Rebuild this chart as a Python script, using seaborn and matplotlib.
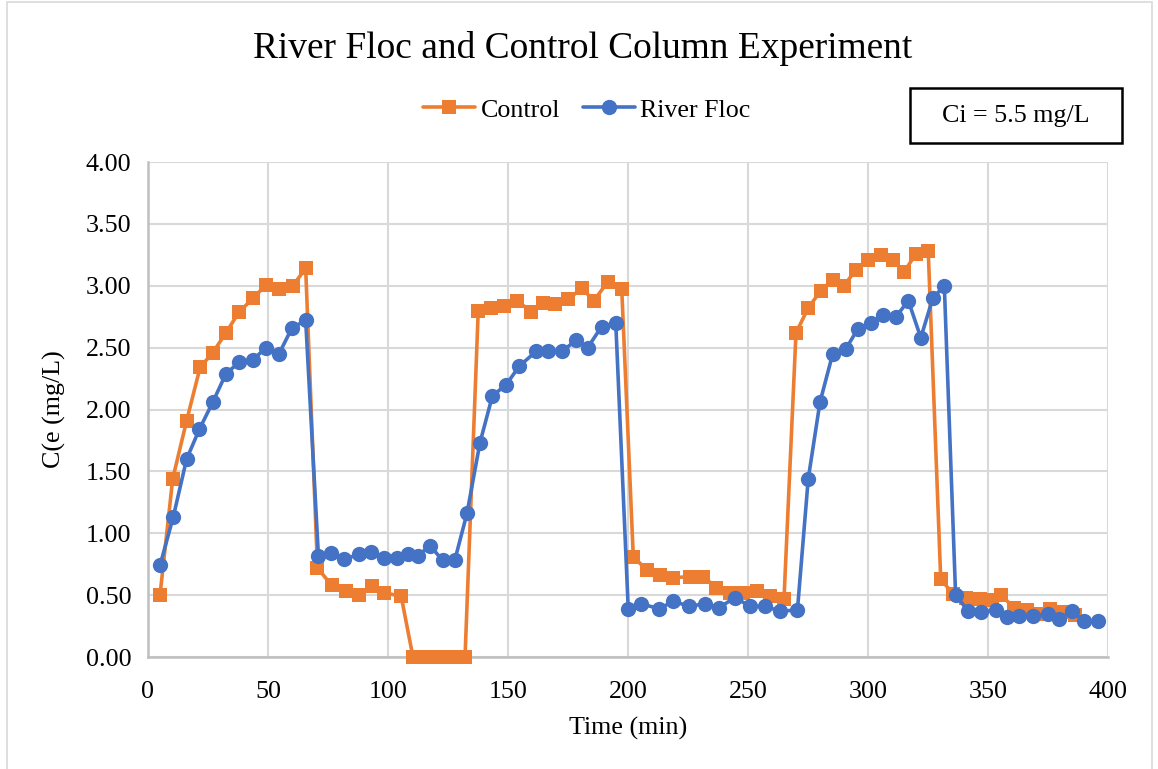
import numpy as np
import pandas as pd
import matplotlib
matplotlib.use("Agg")
import matplotlib.pyplot as plt
import seaborn as sns
from matplotlib.patches import Rectangle

# ---- data ----
control_time = [5.0, 10.3, 16.1, 21.7, 27.0, 32.5, 38.0, 43.9, 49.2, 54.7, 60.3, 65.7,
                70.6, 76.5, 82.4, 87.9, 93.2, 98.3, 105.5, 110.4, 115.8, 121.3, 126.7, 132.1,
                137.6, 142.8, 148.3, 153.9, 159.5, 164.7, 169.6, 175.1, 180.7, 185.8, 191.5, 197.4,
                202.2, 208.0, 213.3, 218.6, 225.8, 231.4, 236.8, 242.5, 247.8, 253.6, 259.2, 265.0,
                270.0, 275.1, 280.3, 285.3, 290.0, 295.0, 300.1, 305.3, 310.3, 315.0, 320.0, 325.1,
                330.3, 335.4, 341.0, 346.7, 351.7, 355.4, 360.8, 366.3, 370.8, 375.8, 380.8, 386.3]
control_ce = [0.50, 1.44, 1.91, 2.34, 2.46, 2.62, 2.79, 2.90, 3.01, 2.97, 3.00, 3.14,
              0.72, 0.58, 0.53, 0.50, 0.57, 0.52, 0.49, 0.00, 0.00, 0.00, 0.00, 0.00,
              2.80, 2.82, 2.84, 2.88, 2.79, 2.86, 2.85, 2.89, 2.98, 2.88, 3.03, 2.97,
              0.81, 0.70, 0.66, 0.64, 0.65, 0.65, 0.56, 0.52, 0.52, 0.53, 0.49, 0.47,
              2.62, 2.82, 2.96, 3.05, 3.00, 3.13, 3.21, 3.25, 3.21, 3.11, 3.26, 3.28,
              0.63, 0.51, 0.48, 0.47, 0.46, 0.50, 0.40, 0.38, 0.35, 0.39, 0.36, 0.34]

floc_time = [5.0, 10.5, 16.1, 21.4, 27.0, 32.5, 37.9, 43.6, 49.2, 54.6, 60.0, 65.7,
             71.0, 76.1, 81.8, 88.0, 92.8, 98.3, 103.6, 108.2, 112.6, 117.5, 122.8, 127.8,
             132.9, 138.3, 143.5, 149.2, 154.7, 161.7, 166.8, 172.6, 178.3, 183.2, 189.0, 194.9,
             200.1, 205.4, 213.0, 218.9, 225.5, 232.1, 238.0, 244.6, 250.8, 257.1, 263.3, 270.6,
             275.1, 280.0, 285.3, 290.8, 295.7, 301.1, 306.1, 311.7, 316.8, 322.0, 327.0, 331.8,
             336.5, 341.8, 347.1, 353.3, 357.8, 363.0, 368.9, 374.9, 379.7, 385.1, 390.1, 395.7]
floc_ce = [0.74, 1.13, 1.60, 1.84, 2.06, 2.29, 2.38, 2.40, 2.50, 2.45, 2.66, 2.72,
           0.82, 0.84, 0.79, 0.83, 0.85, 0.80, 0.80, 0.83, 0.82, 0.90, 0.78, 0.78,
           1.16, 1.73, 2.11, 2.20, 2.35, 2.47, 2.47, 2.47, 2.56, 2.50, 2.67, 2.70,
           0.39, 0.43, 0.39, 0.45, 0.41, 0.43, 0.40, 0.48, 0.41, 0.41, 0.37, 0.38,
           1.44, 2.06, 2.45, 2.49, 2.65, 2.70, 2.76, 2.75, 2.88, 2.58, 2.90, 3.00,
           0.50, 0.37, 0.36, 0.38, 0.32, 0.33, 0.33, 0.35, 0.31, 0.37, 0.29, 0.29]

series_names = ["Control", "River Floc"]
x_ticks = [0, 50, 100, 150, 200, 250, 300, 350, 400]
y_ticks = [0.00, 0.50, 1.00, 1.50, 2.00, 2.50, 3.00, 3.50, 4.00]
title = "River Floc and Control Column Experiment"
x_label = "Time (min)"
y_label = "C(e (mg/L)"
note = "Ci = 5.5 mg/L"

# ---- style ----
sns.set_theme(style="white")
plt.rcParams['font.family'] = ['Liberation Serif', 'DejaVu Serif']
plt.rcParams['text.color'] = 'black'
plt.rcParams['axes.labelcolor'] = 'black'

ORANGE = "#ED7D31"
BLUE = "#4472C4"
GRID = "#D9D9D9"

fig = plt.figure(figsize=(11.58, 7.69), dpi=100)
W, H = 1158, 769
ax = fig.add_axes([148 / W, 1 - 657 / H, (1108 - 148) / W, (657 - 162) / H])

sns.lineplot(x=control_time, y=control_ce, ax=ax, color=ORANGE, linewidth=2.6,
             marker="s", markersize=10, markeredgewidth=0, estimator=None,
             label=series_names[0], zorder=3, clip_on=False)
sns.lineplot(x=floc_time, y=floc_ce, ax=ax, color=BLUE, linewidth=2.6,
             marker="o", markersize=11, markeredgewidth=0, estimator=None,
             label=series_names[1], zorder=4, clip_on=False)

ax.set_xlim(0, 400)
ax.set_ylim(0, 4)
ax.set_xticks(x_ticks)
ax.set_xticklabels([str(v) for v in x_ticks])
ax.set_yticks(y_ticks)
ax.set_yticklabels([f"{v:.2f}" for v in y_ticks])
ax.tick_params(axis="both", labelsize=18.7, colors="black", length=0)
ax.tick_params(axis="x", pad=17)
ax.tick_params(axis="y", pad=12)
ax.grid(True, color=GRID, linewidth=1.5)
ax.set_axisbelow(True)
for s in ["top", "right"]:
    ax.spines[s].set_visible(False)
for s in ["left", "bottom"]:
    ax.spines[s].set_color("#BFBFBF")
    ax.spines[s].set_linewidth(1.8)

ax.set_xlabel(x_label, fontsize=18.7, labelpad=10, color="black")
ax.set_ylabel(y_label, fontsize=18.7, labelpad=14, color="black")

fig.text(583 / W, 1 - 48 / H, title, fontsize=26.9, ha="center", va="center",
         color="black")

handles, labels = ax.get_legend_handles_labels()
ax.get_legend().remove()
fig.legend(handles, labels, loc="center", bbox_to_anchor=(587 / W, 1 - 110 / H),
           ncol=2, frameon=False, fontsize=18.7, handlelength=2.0,
           columnspacing=0.9, handletextpad=0.2, labelcolor="black")

# Ci annotation box
fig.patches.append(Rectangle((910 / W, 1 - 143 / H), (1122 - 910) / W, (143 - 88) / H,
                             transform=fig.transFigure, fill=False, edgecolor="black",
                             linewidth=1.8))
fig.text(1016 / W, 1 - 116 / H, note, fontsize=18.7, ha="center", va="center",
         color="black")

# outer chart border
fig.patches.append(Rectangle((7 / W, -0.01), (1152 - 7) / W, 1.007,
                             transform=fig.transFigure, fill=False, edgecolor=GRID,
                             linewidth=1.2))

fig.savefig("out.png", dpi=100)
